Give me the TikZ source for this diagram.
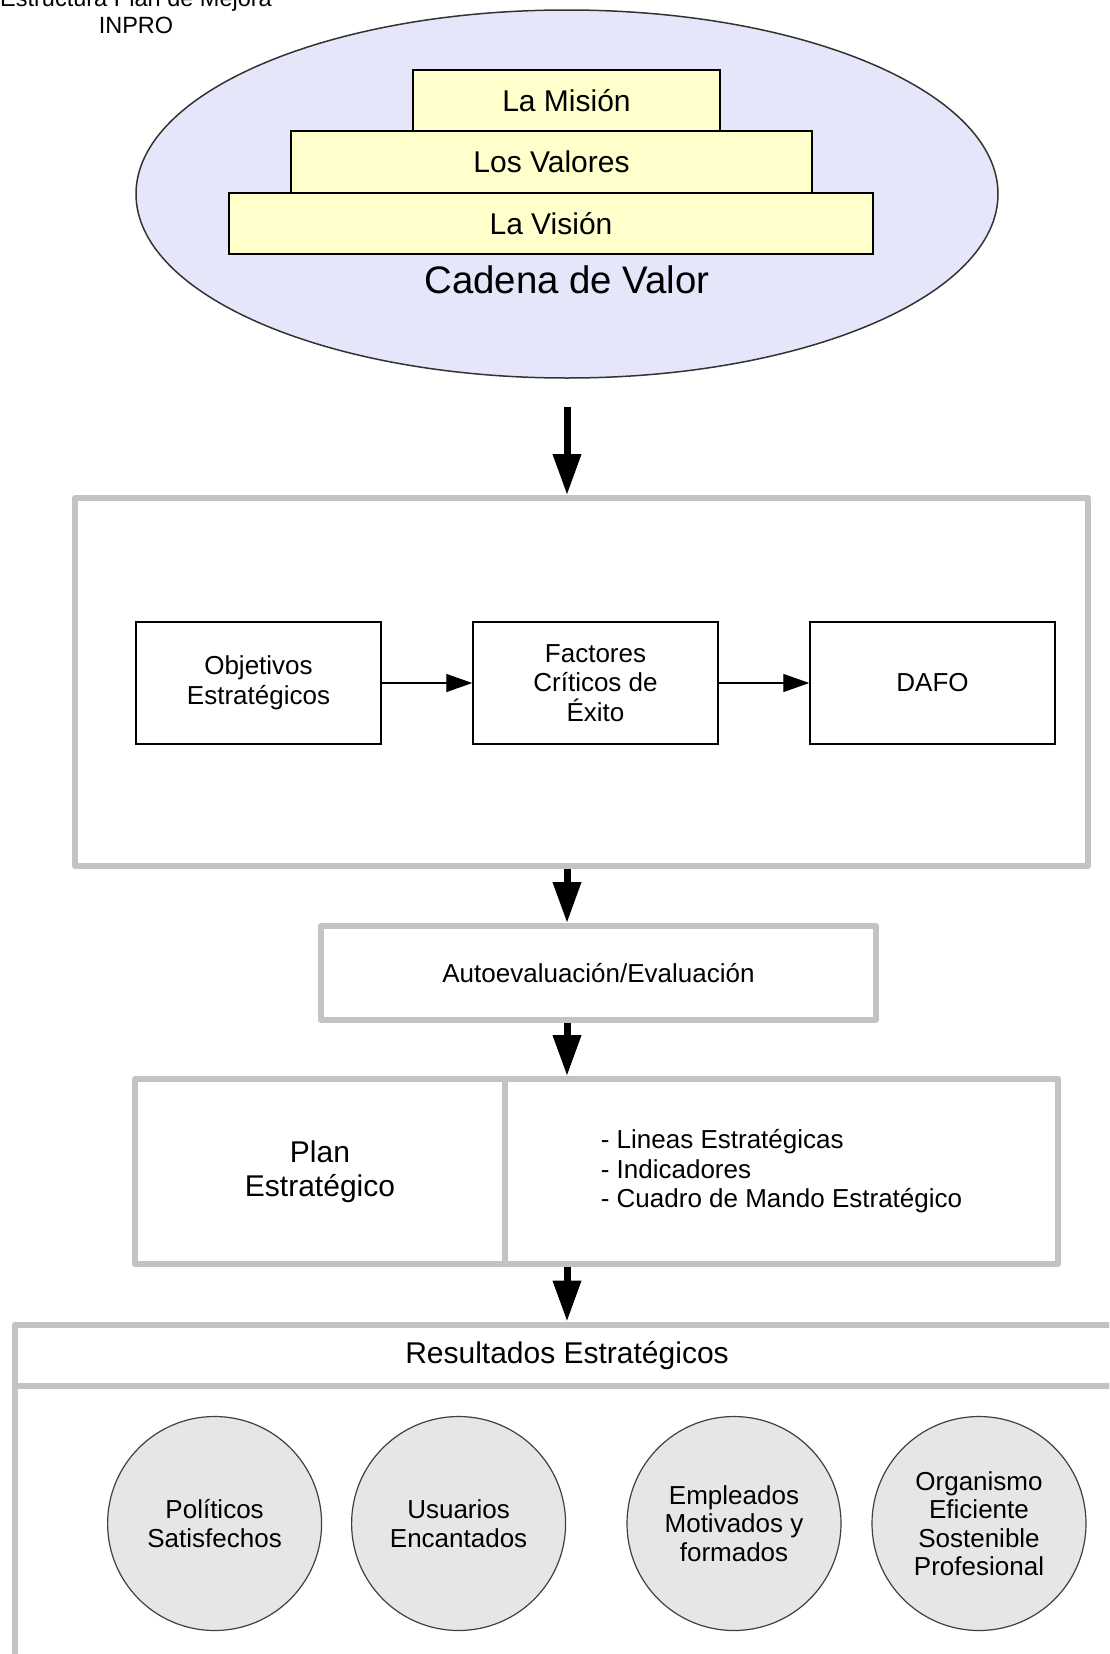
\documentclass[tikz,border=0pt]{standalone}
\usepackage{fontspec}
\setmainfont{Liberation Sans}
\usetikzlibrary{shapes.geometric,arrows.meta}

% one drawing unit = 0.5pt
\newcommand\pxu{0.5pt}

\definecolor{frameGray}{RGB}{195,195,195}
\definecolor{chainFill}{RGB}{230,230,250}
\definecolor{tierFill}{RGB}{255,255,204}
\definecolor{discFill}{RGB}{230,230,230}

\tikzset{
  tier/.style={draw=black, line width=0.75pt, fill=tierFill, inner sep=0pt,
    font=\fontsize{15}{17}\selectfont},
  frame/.style={draw=frameGray, line width=3pt, fill=white, line join=round,
    inner sep=0pt},
  stepbox/.style={draw=black, line width=0.75pt, fill=white, inner sep=0pt,
    align=center, minimum width=245*\pxu, minimum height=122*\pxu,
    font=\fontsize{13}{14.75}\selectfont},
  flow/.style={line width=3.5pt, -{Triangle[length=20.5pt,width=13.5pt]}},
  link/.style={line width=0.7pt, -{Triangle[length=13pt,width=9pt]}},
  disc/.style={circle, draw=black!75, line width=0.6pt, fill=discFill,
    minimum size=214*\pxu, inner sep=0pt, align=center,
    font=\fontsize{13}{14.25}\selectfont},
}

\begin{document}
\begin{tikzpicture}[x=0.5pt, y=-0.5pt]
\useasboundingbox (0,0) rectangle (1109,1654);
\clip (0,0) rectangle (1109,1654);

% title
\node[anchor=base, font=\fontsize{11.75}{13.3}\selectfont, inner sep=0pt]
  (title1) at (136,6.7) {Estructura Plan de Mejora};
\node[anchor=base, font=\fontsize{11.75}{13.3}\selectfont, inner sep=0pt]
  (title2) at (136,33.3) {INPRO};

% value chain
\node[ellipse, draw=black!80, line width=0.75pt, fill=chainFill, inner sep=0pt,
  minimum width=862*\pxu, minimum height=368*\pxu] (ell) at (567,194) {};
\node[tier, minimum width=307*\pxu, minimum height=61*\pxu] (mision)
  at (566.5,100.5) {La Misión};
\node[tier, minimum width=521*\pxu, minimum height=62*\pxu] (valores)
  at (551.5,162) {Los Valores};
\node[tier, minimum width=644*\pxu, minimum height=61*\pxu] (vision)
  at (551,223.5) {La Visión};
\node[font=\fontsize{19.2}{22}\selectfont] (cadena) at (567,280) {Cadena de Valor};

% strategic analysis
\node[frame, minimum width=1013*\pxu, minimum height=368*\pxu] (box1)
  at (581.5,682) {};
\node[stepbox] (obj) at (258.5,683) {Objetivos\\Estratégicos};
\node[stepbox] (fac) at (595.5,683) {Factores\\Críticos de\\Éxito};
\node[stepbox] (dafo) at (932.5,683) {DAFO};
\draw[link] (obj.east) -- (fac.west);
\draw[link] (fac.east) -- (dafo.west);

% evaluation
\node[frame, minimum width=555*\pxu, minimum height=94*\pxu,
  font=\fontsize{13}{14.75}\selectfont] (auto) at (598.5,973)
  {Autoevaluación/Evaluación};

% strategic plan
\node[frame, minimum width=370*\pxu, minimum height=185*\pxu, align=center,
  font=\fontsize{15}{17}\selectfont] (plan) at (320,1171.5)
  {Plan\\Estratégico};
\node[frame, minimum width=553*\pxu, minimum height=185*\pxu, align=left,
  font=\fontsize{13}{14.75}\selectfont] (items) at (781.5,1171.5)
  {- Lineas Estratégicas\\- Indicadores\\- Cuadro de Mando Estratégico};

% strategic results
\node[frame, minimum width=1104*\pxu, minimum height=61.5*\pxu,
  font=\fontsize{15}{17}\selectfont] (reshead) at (567,1355.25)
  {Resultados Estratégicos};
\node[frame, minimum width=1104*\pxu, minimum height=330*\pxu] (resbody)
  at (567,1551) {};
\node[disc] (pol) at (214.6,1523.5) {Políticos\\Satisfechos};
\node[disc] (usu) at (458.6,1523.5) {Usuarios\\Encantados};
\node[disc] (emp) at (734,1523.5) {Empleados\\Motivados y\\formados};
\node[disc] (org) at (979,1523.5) {Organismo\\Eficiente\\Sostenible\\Profesional};

% main flow
\draw[flow, shorten <=14pt] (ell.south) -- (ell.south |- box1.north);
\draw[flow] (ell.south |- box1.south) -- (ell.south |- auto.north);
\draw[flow] (ell.south |- auto.south) -- (ell.south |- items.north);
\draw[flow] (ell.south |- items.south) -- (ell.south |- reshead.north);
\end{tikzpicture}
\end{document}
